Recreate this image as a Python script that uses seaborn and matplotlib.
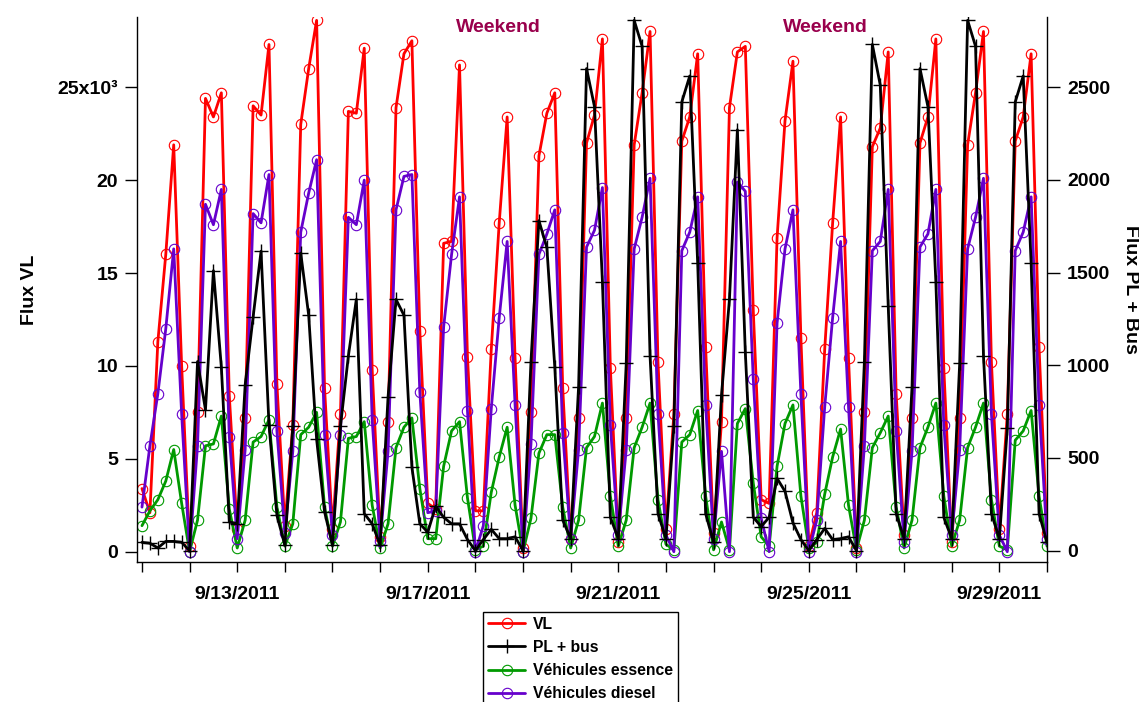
import matplotlib
matplotlib.use('Agg')
import matplotlib.pyplot as plt
import matplotlib.dates as mdates
import pandas as pd
import seaborn as sns

# 4-hourly values, 9/11/2011 00:00 -> 9/30/2011 00:00 (one row per day)
# VL and the two fuel series in thousands, PL + bus in vehicles
vl = [
    3.4, 2.1, 11.3, 16.0, 21.9, 10.0,
    0.3, 7.5, 24.4, 23.4, 24.7, 8.4,
    1.2, 7.2, 24.0, 23.5, 27.3, 9.0,
    1.4, 6.8, 23.0, 26.0, 28.6, 8.8,
    1.2, 7.4, 23.7, 23.6, 27.1, 9.8,
    0.8, 7.0, 23.9, 26.8, 27.5, 11.9,
    2.6, 2.3, 16.6, 16.7, 26.2, 10.5,
    2.2, 2.2, 10.9, 17.7, 23.4, 10.4,
    0.2, 7.5, 21.3, 23.6, 24.7, 8.8,
    0.7, 7.2, 22.0, 23.5, 27.6, 9.9,
    0.5, 7.2, 21.9, 24.7, 28.0, 10.2,
    1.2, 7.4, 22.1, 23.4, 26.8, 11.0,
    1.0, 7.0, 23.9, 26.9, 27.2, 13.0,
    2.8, 2.6, 16.9, 23.2, 26.4, 11.5,
    0.3, 2.1, 10.9, 17.7, 23.4, 10.4,
    0.2, 7.5, 21.8, 22.8, 26.9, 8.5,
    0.9, 7.2, 22.0, 23.4, 27.6, 9.9,
    0.5, 7.2, 21.9, 24.7, 28.0, 10.2,
    1.2, 7.4, 22.1, 23.4, 26.8, 11.0,
    1.0,
]
pl_bus = [
    45, 40, 15, 50, 50, 45,
    0, 1020, 760, 1510, 990, 155,
    145, 895, 1260, 1615, 680, 190,
    30, 670, 1605, 1270, 600, 210,
    30, 670, 1050, 1355, 200, 145,
    30, 830, 1355, 1270, 450, 145,
    100, 240, 180, 145, 145, 60,
    0, 60, 115, 65, 65, 75,
    0, 1020, 1780, 1635, 990, 165,
    65, 885, 2600, 2395, 1450, 180,
    65, 1010, 2860, 2720, 1050, 200,
    65, 670, 2420, 2560, 1550, 200,
    45, 840, 1355, 2270, 1070, 180,
    130, 180, 390, 320, 150, 60,
    0, 60, 120, 60, 65, 75,
    0, 1020, 2730, 2510, 1320, 200,
    65, 885, 2600, 2395, 1450, 180,
    65, 1010, 2860, 2720, 1050, 200,
    65, 660, 2420, 2560, 1550, 200,
    45,
]
essence = [
    1.4, 2.2, 2.8, 3.8, 5.5, 2.6,
    0.0, 1.7, 5.7, 5.8, 7.3, 2.3,
    0.2, 1.7, 5.9, 6.2, 7.1, 2.4,
    0.3, 1.5, 6.3, 6.7, 7.5, 2.4,
    0.3, 1.6, 6.1, 6.2, 7.0, 2.5,
    0.2, 1.5, 5.6, 6.7, 7.2, 3.4,
    0.7, 0.7, 4.6, 6.5, 7.0, 2.9,
    0.1, 0.3, 3.2, 5.1, 6.7, 2.5,
    0.0, 1.8, 5.3, 6.3, 6.3, 2.4,
    0.2, 1.7, 5.6, 6.2, 8.0, 3.0,
    0.3, 1.7, 5.6, 6.7, 8.0, 2.8,
    0.4, 0.1, 5.9, 6.3, 7.6, 3.0,
    0.1, 1.6, 0.1, 6.9, 7.7, 3.7,
    0.8, 0.3, 4.6, 6.9, 7.9, 3.0,
    0.2, 0.5, 3.1, 5.1, 6.6, 2.5,
    0.1, 1.7, 5.6, 6.4, 7.3, 2.4,
    0.2, 1.7, 5.6, 6.7, 8.0, 3.0,
    0.3, 1.7, 5.6, 6.7, 8.0, 2.8,
    0.3, 0.1, 6.0, 6.5, 7.6, 3.0,
    0.3,
]
diesel = [
    2.4, 5.7, 8.5, 12.0, 16.3, 7.4,
    0.0, 5.7, 18.7, 17.6, 19.5, 6.2,
    0.7, 5.5, 18.2, 17.7, 20.3, 6.5,
    1.0, 5.4, 17.2, 19.3, 21.1, 6.3,
    0.9, 6.3, 18.0, 17.6, 20.0, 7.1,
    0.6, 5.4, 18.4, 20.2, 20.3, 8.6,
    2.1, 2.2, 12.1, 16.0, 19.1, 7.6,
    0.0, 1.4, 7.7, 12.6, 16.7, 7.9,
    0.0, 5.8, 16.0, 17.1, 18.4, 6.4,
    0.7, 5.5, 16.4, 17.3, 19.6, 6.8,
    0.9, 5.5, 16.3, 18.0, 20.1, 7.4,
    0.9, 0.0, 16.2, 17.2, 19.1, 7.9,
    0.7, 5.4, 0.0, 19.9, 19.4, 9.3,
    1.8, 0.0, 12.3, 16.3, 18.4, 8.5,
    0.0, 1.7, 7.8, 12.6, 16.7, 7.8,
    0.0, 5.7, 16.2, 16.7, 19.5, 6.5,
    0.5, 5.4, 16.4, 17.1, 19.5, 6.8,
    0.9, 5.5, 16.3, 18.0, 20.1, 7.4,
    0.9, 0.0, 16.2, 17.2, 19.1, 7.9,
    0.7,
]

date_ticks = ['2011-09-13', '2011-09-17', '2011-09-21', '2011-09-25', '2011-09-29']
date_labels = ['9/13/2011', '9/17/2011', '9/21/2011', '9/25/2011', '9/29/2011']
left_ticks = [0, 5, 10, 15, 20, 25]
left_labels = ['0', '5', '10', '15', '20', '25x10³']
right_ticks = [0, 500, 1000, 1500, 2000, 2500]

RED = '#ff0000'
GREEN = '#009900'
PURPLE = '#6600cc'
WEEKEND = '#99004c'

sns.set_theme(style='ticks')
plt.rcParams['font.family'] = ['Liberation Sans', 'DejaVu Sans']
plt.rcParams['font.weight'] = 'bold'
plt.rcParams['axes.labelweight'] = 'bold'
for key in ['text.color', 'axes.labelcolor', 'xtick.color', 'ytick.color', 'axes.edgecolor']:
    plt.rcParams[key] = 'black'

times = pd.date_range('2011-09-11', periods=len(vl), freq='4h')

fig = plt.figure(figsize=(11.39, 7.02), dpi=100)
ax = fig.add_axes([137 / 1139, 1 - 562 / 702, 910 / 1139, 545 / 702])
ax2 = ax.twinx()

circ = dict(lw=2, marker='o', ms=7.5, mfc='none', mew=0.8)
sns.lineplot(x=times, y=vl, ax=ax, color=RED, mec=RED, label='VL', **circ)
sns.lineplot(x=times, y=essence, ax=ax, color=GREEN, mec=GREEN, label='Véhicules essence', **circ)
sns.lineplot(x=times, y=diesel, ax=ax, color=PURPLE, mec=PURPLE, label='Véhicules diesel', **circ)
sns.lineplot(x=times, y=pl_bus, ax=ax2, color='black', lw=2, marker='+', ms=10,
             mew=1, mec='black', label='PL + bus')

h1, l1 = ax.get_legend_handles_labels()
h2, l2 = ax2.get_legend_handles_labels()
ax.get_legend().remove()
ax2.get_legend().remove()

ax.set_xlim(pd.Timestamp('2011-09-10 21:30'), pd.Timestamp('2011-09-30 00:00'))
ax.set_ylim(-0.554, 28.78)
ax2.set_ylim(-61, 2878)

ax.set_yticks(left_ticks)
ax.set_yticklabels(left_labels)
ax2.set_yticks(right_ticks)
ax.set_xticks(pd.to_datetime(date_ticks))
ax.set_xticklabels(date_labels)
ax.xaxis.set_minor_locator(mdates.DayLocator())

ax.tick_params(axis='y', length=8.6, width=1, labelsize=14, pad=5)
ax2.tick_params(axis='y', length=9.4, width=1, labelsize=14, pad=5)
ax.tick_params(axis='x', which='both', length=7, width=1, labelsize=14, pad=10)

for a in (ax, ax2):
    a.spines['top'].set_visible(False)
    for s in a.spines.values():
        s.set_linewidth(1)
ax.spines['right'].set_visible(False)
ax2.spines['left'].set_visible(False)
ax2.spines['bottom'].set_visible(False)

ax.set_xlabel('')
ax.set_ylabel('Flux VL', fontsize=14, va='center')
ax.yaxis.set_label_coords(-0.118, 0.5)
ax2.set_ylabel('Flux PL + Bus', fontsize=14, rotation=270, va='center')
ax2.yaxis.set_label_coords(1.092, 0.5)

for xpos in (0.397, 0.756):
    ax.text(xpos, 0.98, 'Weekend', transform=ax.transAxes, ha='center', va='center',
            color=WEEKEND, fontsize=14, fontweight='bold')

handles = [h1[0], h2[0], h1[1], h1[2]]
labels = [l1[0], l2[0], l1[1], l1[2]]
leg = fig.legend(handles, labels, loc='upper left', bbox_to_anchor=(483 / 1139, 1 - 612 / 702),
                 frameon=True, fancybox=False, edgecolor='black', framealpha=1,
                 prop={'size': 11.3, 'weight': 'bold'}, handlelength=2.4, handletextpad=0.5,
                 labelspacing=0.52, borderpad=0.3, borderaxespad=0)
leg.get_frame().set_linewidth(1)

fig.savefig('out.png', dpi=100)
